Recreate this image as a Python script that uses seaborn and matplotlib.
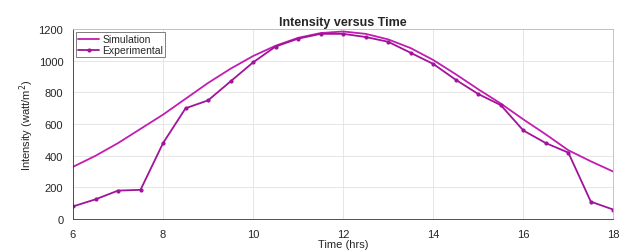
import seaborn as sns
import matplotlib.pyplot as plt
import pandas as pd

sns.set_theme(style="whitegrid")
plt.rcParams['font.family'] = ['Liberation Sans', 'DejaVu Sans']

# time of day (hrs)
hours = [6, 6.5, 7, 7.5, 8, 8.5, 9, 9.5, 10, 10.5, 11, 11.5, 12,
         12.5, 13, 13.5, 14, 14.5, 15, 15.5, 16, 16.5, 17, 17.5, 18]
# intensity values (watt/m^2)
simulation = [330, 400, 480, 570, 660, 760, 860, 950, 1030, 1095, 1145, 1175, 1185,
              1170, 1135, 1080, 1005, 915, 820, 730, 630, 535, 435, 365, 300]
experimental = [80, 125, 180, 185, 480, 700, 750, 870, 990, 1090, 1140, 1170, 1170,
                1150, 1120, 1050, 980, 880, 790, 720, 560, 480, 420, 110, 60]

df = pd.DataFrame({'hours': hours, 'sim': simulation, 'exp': experimental})

fig = plt.figure(figsize=(6.32, 2.53), dpi=100)
ax = fig.add_axes([0.1155, 0.13, 0.855, 0.751])

sns.lineplot(data=df, x='hours', y='sim', ax=ax, color='#C21DB0', lw=1.3,
             label='Simulation')
sns.lineplot(data=df, x='hours', y='exp', ax=ax, color='#A0139A', lw=1.3,
             marker='o', markersize=3, markeredgewidth=0, label='Experimental')

ax.set_xlim(6, 18)
ax.set_ylim(0, 1200)
ax.set_xticks([6, 8, 10, 12, 14, 16, 18])
ax.set_yticks([0, 200, 400, 600, 800, 1000, 1200])
ax.tick_params(labelsize=8, pad=1)
ax.set_xlabel('Time (hrs)', fontsize=8, labelpad=0)
ax.set_ylabel('Intensity (watt/m$^2$)', fontsize=8, labelpad=2)
ax.set_title('Intensity versus Time', fontsize=9, fontweight='bold', pad=3)

ax.grid(color='#e2e2e2', lw=0.6)
for s in ax.spines.values():
    s.set_visible(True)
    s.set_color('#bbbbbb')
    s.set_linewidth(0.6)
ax.spines['bottom'].set_color('#333333')
ax.spines['left'].set_color('#333333')

leg = ax.legend(loc='upper left', fontsize=7.5, frameon=True, fancybox=False,
                borderpad=0.2, handlelength=2, handletextpad=0.3, labelspacing=0.1,
                borderaxespad=0.3)
leg.get_frame().set_edgecolor('#444444')
leg.get_frame().set_linewidth(0.6)

fig.savefig('out.png', dpi=100)
